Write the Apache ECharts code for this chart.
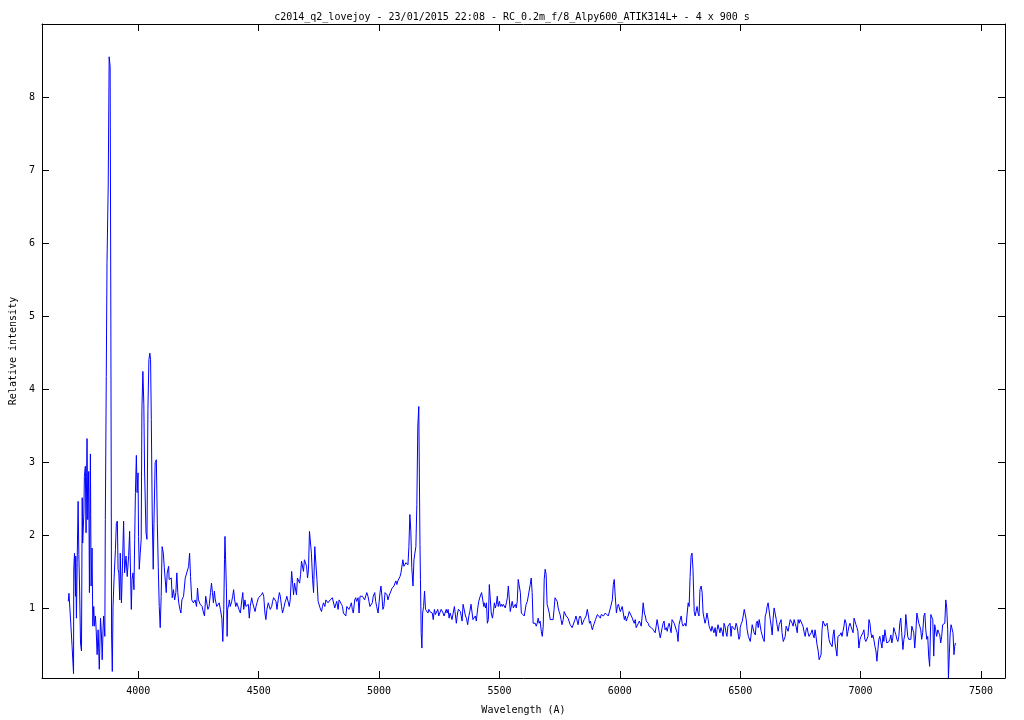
<!DOCTYPE html>
<html>
<head>
<meta charset="utf-8">
<script src="https://cdn.jsdelivr.net/npm/echarts@6/dist/echarts.min.js"></script>
<style>
html,body{margin:0;padding:0;background:#fff;}
#chart{width:1024px;height:720px;}
</style>
</head>
<body>
<div id="chart"></div>
<script>
// Spectrum readings: [wavelength (A), relative intensity]
const segViolet = [
[3709,1.09],[3712,1.20],[3717,1.20],[3719,0.82],[3725,0.47],[3731,0.10],[3732,1.53],[3735,1.75],[3739,1.16],[3740,1.71],
[3743,0.86],[3746,1.62],[3750,2.46],[3753,1.73],[3756,1.30],[3760,0.52],[3764,0.41],[3767,2.51],[3769,1.89],[3774,2.30],
[3776,2.80],[3780,2.94],[3783,2.03],[3787,3.32],[3790,2.21],[3794,2.87],[3797,1.21],[3801,3.11],[3804,1.30],[3808,1.82],
[3811,0.75],[3815,1.02],[3818,0.75],[3822,0.89],[3825,0.70],[3829,0.36],[3833,0.70],[3838,0.16],[3843,0.86],[3847,0.63],
[3850,0.29],[3854,0.75],[3856,0.89],[3861,0.61],[3863,2.21],[3867,4.17],[3870,5.73],[3875,6.78],[3879,8.55],[3883,8.42],
[3886,4.96],[3889,0.63],[3892,0.13]
];
const segBlue = [
[3895,1.02],[3899,1.37],[3905,1.80],[3909,2.16],[3913,2.19],[3916,1.53],[3919,1.48],[3923,1.11],[3925,1.75],[3930,1.07],
[3932,1.30],[3939,2.19],[3943,1.48],[3949,1.71],[3954,1.43],[3960,1.72],[3964,2.05],[3967,2.05],[3971,0.98],[3974,1.39],
[3978,1.48],[3982,1.25],[3985,1.94],[3988,2.58],[3992,3.09],[3995,2.58],[3999,2.85],[4001,1.98],[4004,1.53],[4008,1.75],
[4012,1.94],[4015,3.72],[4019,4.24],[4023,3.79],[4026,2.89],[4032,2.03],[4036,1.94],[4040,3.72],[4044,4.40],[4048,4.49],
[4051,4.40],[4054,3.58],[4058,2.26],[4062,1.53],[4065,2.16],[4070,2.99],[4075,3.03],[4079,2.16],[4083,1.55],[4087,1.02],
[4091,0.73],[4095,1.16],[4099,1.84],[4104,1.75],[4108,1.55],[4112,1.53],[4116,1.21],[4120,1.48],[4126,1.57],[4128,1.39],
[4133,1.39],[4137,1.41],[4141,1.14],[4146,1.25],[4151,1.11],[4156,1.21],[4160,1.48],[4164,1.21],[4168,1.07],[4173,0.98],
[4177,0.93],[4181,1.11],[4188,1.16],[4195,1.41],[4199,1.39],[4203,1.43],[4209,1.57],[4213,1.75],[4217,1.43],[4222,1.11],
[4229,1.07],[4236,1.11],[4242,1.02],[4246,1.27],[4250,1.11],[4257,1.05],[4261,1.07],[4265,1.02],[4271,0.93],[4275,0.89],
[4280,1.16],[4284,1.18],[4289,0.98],[4294,1.02],[4300,1.21],[4304,1.34],[4308,1.21],[4312,1.07],[4316,1.23],[4320,1.11],
[4326,1.02],[4330,1.02],[4336,1.07],[4341,0.98],[4347,0.86],[4351,0.54],[4355,0.98],[4358,1.66],[4360,1.98],[4363,1.98],
[4366,1.27],[4369,0.61],[4371,0.98],[4376,1.05],[4378,1.11],[4382,1.02],[4388,1.09],[4392,1.16],[4396,1.25],[4400,1.11],
[4405,1.02],[4409,1.07],[4413,1.09],[4418,0.98],[4424,0.93]
];
const segCyan = [
[4430,1.11],[4434,1.21],[4438,0.98],[4443,1.11],[4447,1.02],[4452,1.00],[4457,1.05],[4461,0.86],[4465,1.02],[4471,1.14],
[4475,1.07],[4479,1.09],[4485,0.95],[4489,1.02],[4493,1.07],[4499,1.14],[4503,1.16],[4507,1.14],[4512,1.18],[4516,1.21],
[4521,1.16],[4526,0.93],[4530,0.84],[4534,0.98],[4540,1.07],[4544,1.05],[4548,0.98],[4554,1.02],[4558,1.09],[4562,1.14],
[4568,1.16],[4572,1.09],[4576,0.98],[4581,1.11],[4586,1.21],[4590,1.16],[4595,1.02],[4599,0.93],[4603,0.98],[4609,1.07],
[4613,1.11],[4617,1.16],[4623,1.16],[4627,1.02],[4631,1.11],[4637,1.50],[4641,1.34],[4645,1.18],[4649,1.34],[4653,1.34],
[4657,1.18],[4661,1.41],[4666,1.43],[4670,1.34],[4674,1.46],[4678,1.64],[4682,1.62],[4686,1.50],[4690,1.66],[4695,1.66],
[4699,1.57],[4703,1.41],[4707,1.53],[4711,2.05],[4715,2.05],[4719,1.75],[4724,1.39],[4728,1.21],[4733,1.84],[4737,1.84],
[4742,1.39],[4747,1.09],[4751,1.07],[4755,1.00],[4761,0.95],[4765,1.02],[4769,1.07],[4775,1.02],[4779,1.11],[4783,1.09],
[4788,1.07],[4793,1.09],[4797,1.11],[4802,1.09],[4806,1.14],[4811,1.16],[4816,1.00],[4820,1.02],[4824,1.09],[4830,0.98],
[4834,1.11],[4838,1.11],[4844,1.05],[4848,1.02],[4852,0.93],[4858,0.91],[4862,0.89],[4866,1.02],[4871,1.02],[4875,0.98],
[4880,1.02],[4885,1.07],[4889,0.98],[4893,0.93],[4899,1.11],[4903,1.14],[4907,1.09],[4913,1.14],[4917,0.93],[4921,1.16],
[4927,1.18],[4931,1.16],[4935,1.14],[4940,1.11],[4945,1.09],[4949,1.21],[4954,1.16],[4958,1.09],[4962,1.02],[4968,1.00],
[4972,1.07],[4976,1.16],[4982,1.21],[4986,1.09],[4990,1.02],[4996,0.93],[5000,0.91],[5004,1.21],[5008,1.30],[5012,1.16],
[5016,0.98],[5020,1.02],[5025,1.21],[5029,1.21],[5033,1.18],[5037,1.11],[5041,1.16],[5045,1.14],[5049,1.18],[5054,1.27],
[5058,1.25],[5062,1.30],[5066,1.34],[5070,1.37],[5074,1.32],[5078,1.37],[5083,1.39],[5087,1.43],[5091,1.48],[5095,1.50],
[5099,1.66],[5103,1.57],[5107,1.55],[5112,1.62],[5116,1.64],[5120,1.59],[5124,1.84],[5128,2.28],[5132,2.05],[5136,1.55],
[5141,1.30],[5145,1.66],[5149,1.75],[5153,1.84],[5157,2.42],[5161,3.49],[5165,3.76],[5170,1.87],[5172,1.39],[5175,0.66],
[5178,0.45],[5181,0.93],[5185,1.02],[5189,1.23],[5193,0.98],[5197,1.00],[5203,0.93],[5207,0.98],[5211,0.95],[5216,0.93],
[5221,0.93],[5225,0.84],[5230,0.98],[5234,0.91],[5239,0.89],[5244,0.98],[5248,0.89],[5252,0.93],[5258,0.98],[5262,1.00],
[5266,0.93],[5270,0.89],[5274,0.93],[5279,0.98],[5283,0.93],[5287,0.98],[5291,0.86],[5295,0.93],[5299,0.89],[5303,0.84],
[5308,0.93],[5313,1.02],[5317,1.02],[5321,0.79],[5326,0.93],[5330,0.98],[5334,0.98],[5338,0.95]
];
const segGreen = [
[5341,0.93],[5345,0.82],[5349,1.05],[5355,1.07],[5359,0.89],[5363,0.86],[5368,0.77],[5373,0.89],[5377,0.95],[5382,1.05],
[5386,1.07],[5390,0.84],[5396,0.86],[5400,0.89],[5404,0.82],[5410,1.00],[5414,1.09],[5418,1.11],[5422,1.18],[5426,1.21],
[5430,1.23],[5435,1.02],[5437,1.07],[5442,1.00],[5446,1.07],[5450,0.79],[5454,0.84],[5458,1.32],[5462,1.34],[5466,0.93],
[5471,0.86],[5475,0.95],[5479,1.07],[5483,1.00],[5487,1.05],[5491,1.16],[5495,1.02],[5500,1.09],[5504,1.02],[5508,1.05],
[5512,1.02],[5516,1.05],[5520,1.07],[5524,1.00],[5529,1.07],[5533,1.14],[5537,1.30],[5541,1.30],[5545,0.95],[5549,0.93],
[5553,1.09],[5558,1.00],[5562,0.98],[5566,1.05],[5570,1.00],[5574,1.09],[5578,1.39],[5582,1.41],[5587,1.21],[5591,0.93],
[5595,0.93],[5599,0.95],[5603,0.89],[5607,0.91],[5611,1.05],[5616,1.09],[5620,1.09],[5624,1.07],[5628,1.32],[5632,1.41],
[5636,1.21],[5640,0.79],[5644,0.77],[5649,0.79],[5653,0.75],[5657,0.79],[5661,0.86],[5665,0.79],[5669,0.82],[5674,0.68],
[5678,0.61],[5682,0.75],[5686,1.39],[5690,1.53],[5694,1.46],[5698,1.05],[5702,1.00],[5707,0.93],[5711,0.84],[5715,0.84],
[5719,0.86],[5723,0.84],[5727,0.98],[5731,1.14],[5736,1.16],[5740,1.09],[5744,1.00],[5748,0.95],[5752,0.91],[5756,0.84],
[5760,0.77],[5765,0.84],[5769,0.95],[5773,0.93],[5777,0.89],[5781,0.89],[5785,0.86],[5789,0.84],[5794,0.77],[5798,0.75],
[5802,0.73],[5806,0.75],[5810,0.75],[5814,0.84],[5818,0.89],[5823,0.82],[5827,0.77],[5831,0.86],[5835,0.89],[5839,0.86],
[5843,0.77],[5847,0.79],[5852,0.84],[5856,0.84],[5860,0.89],[5865,0.98],[5870,0.89],[5874,0.79],[5878,0.82],[5882,0.75],
[5886,0.70],[5890,0.75],[5894,0.79],[5899,0.84],[5903,0.84],[5907,0.91],[5911,0.89],[5915,0.93],[5919,0.86],[5923,0.91],
[5928,0.93],[5932,0.89],[5936,0.91],[5940,0.93],[5944,0.93],[5948,0.91],[5952,0.89],[5957,0.91],[5961,1.00],[5965,0.98],
[5969,1.11],[5973,1.32],[5977,1.39],[5981,1.16],[5986,0.93],[5990,1.02],[5994,1.05],[5998,1.07],[6002,0.95],[6006,0.95],
[6010,1.02],[6014,1.00],[6019,0.84],[6023,0.89],[6027,0.82],[6031,0.86],[6035,0.89],[6039,0.95],[6044,0.93],[6048,0.89],
[6052,0.86],[6056,0.82],[6060,0.79],[6064,0.84],[6068,0.73],[6073,0.75],[6077,0.79],[6081,0.82],[6085,0.79],[6089,0.75],
[6093,0.89],[6097,1.07],[6102,0.93],[6106,0.89],[6110,0.82],[6114,0.84],[6118,0.79],[6122,0.75],[6126,0.77],[6131,0.73],
[6135,0.75],[6139,0.70],[6143,0.68],[6147,0.66],[6151,0.75],[6155,0.84],[6159,0.82],[6164,0.66],[6168,0.59],[6172,0.57],
[6176,0.73],[6180,0.79],[6184,0.82],[6188,0.70],[6193,0.73],[6197,0.68],[6201,0.75],[6205,0.79],[6209,0.73],[6213,0.66],
[6217,0.84],[6222,0.82],[6226,0.79],[6230,0.77],[6234,0.79],[6238,0.66],[6242,0.54],[6246,0.77],[6251,0.84],[6255,0.89],
[6259,0.79],[6263,0.75],[6267,0.73],[6271,0.79],[6275,0.75],[6280,0.93],[6284,1.07],[6288,1.02],[6292,1.43],[6296,1.71],
[6300,1.75],[6304,1.53],[6309,0.95],[6313,0.89],[6317,0.91],[6321,1.02],[6325,0.93],[6329,0.89],[6333,1.25],[6338,1.30],
[6342,1.21],[6346,0.93],[6350,0.91],[6354,0.79],[6358,0.84],[6362,0.93],[6367,0.84],[6371,0.75],[6375,0.73],[6379,0.68],
[6383,0.75],[6387,0.73],[6391,0.66],[6396,0.73],[6400,0.61],[6404,0.70],[6408,0.77],[6412,0.75],[6416,0.66],[6420,0.73],
[6425,0.68],[6429,0.61],[6433,0.79],[6437,0.75],[6441,0.66],[6445,0.61],[6449,0.75],[6454,0.73],[6458,0.79],[6462,0.61],
[6466,0.75],[6470,0.77],[6474,0.75],[6478,0.70],[6483,0.79],[6487,0.75],[6491,0.73],[6495,0.57],[6499,0.61]
];
const segRed = [
[6500,0.73],[6505,0.79],[6509,0.82],[6513,0.84],[6517,0.98],[6521,0.99],[6525,0.84],[6529,0.70],[6534,0.61],[6538,0.59],
[6542,0.54],[6546,0.52],[6550,0.77],[6554,0.75],[6558,0.66],[6563,0.63],[6567,0.79],[6571,0.82],[6575,0.73],[6579,0.84],
[6583,0.84],[6587,0.68],[6592,0.66],[6596,0.57],[6600,0.54],[6604,0.89],[6608,0.93],[6612,1.02],[6616,1.07],[6621,1.05],
[6625,0.84],[6629,0.75],[6633,0.63],[6637,0.86],[6641,1.00],[6645,0.98],[6650,0.84],[6654,0.75],[6658,0.68],[6662,0.77],
[6666,0.79],[6670,0.84],[6674,0.66],[6679,0.54],[6683,0.54],[6687,0.61],[6691,0.75],[6695,0.77],[6699,0.68],[6703,0.66],
[6708,0.84],[6712,0.86],[6716,0.79],[6720,0.75],[6724,0.84],[6728,0.79],[6732,0.75],[6737,0.66],[6741,0.84],[6745,0.79],
[6749,0.84],[6753,0.86],[6757,0.84],[6761,0.75],[6766,0.66],[6770,0.61],[6774,0.70],[6778,0.73],[6782,0.66],[6786,0.61],
[6790,0.63],[6795,0.66],[6799,0.70],[6803,0.63],[6807,0.59],[6811,0.70],[6815,0.61],[6819,0.50],[6824,0.41],[6828,0.29],
[6832,0.27],[6836,0.36],[6840,0.70],[6844,0.82],[6848,0.82],[6853,0.75],[6857,0.75],[6861,0.79],[6865,0.68],[6869,0.57],
[6873,0.52],[6877,0.50],[6882,0.47],[6886,0.63],[6890,0.70],[6894,0.52],[6898,0.50],[6902,0.34],[6906,0.61],[6911,0.63],
[6915,0.63],[6919,0.66],[6923,0.61],[6927,0.68],[6931,0.75],[6935,0.84],[6940,0.79],[6944,0.61],[6948,0.68],[6952,0.75],
[6956,0.79],[6960,0.75],[6964,0.73],[6969,0.66],[6973,0.86],[6977,0.86],[6981,0.77],[6985,0.73],[6989,0.68],[6993,0.45],
[6998,0.57],[7002,0.61],[7006,0.63],[7010,0.66],[7014,0.70],[7018,0.57],[7022,0.54],[7026,0.54],[7031,0.61],[7035,0.84],
[7039,0.79],[7043,0.66],[7047,0.59],[7051,0.63],[7055,0.57],[7060,0.47],[7064,0.41],[7068,0.27],[7072,0.43],[7076,0.57],
[7080,0.61],[7084,0.54],[7089,0.45],[7093,0.63],[7097,0.54],[7101,0.70],[7105,0.61],[7109,0.52],[7113,0.50],[7118,0.54],
[7122,0.57],[7126,0.63],[7130,0.52],[7134,0.59],[7138,0.73],[7142,0.68],[7147,0.63],[7151,0.57],[7155,0.54],[7159,0.61],
[7163,0.79],[7167,0.86],[7171,0.66],[7176,0.43],[7180,0.57],[7184,0.63],[7188,0.91],[7192,0.91],[7196,0.61],[7200,0.57],
[7205,0.59],[7209,0.57],[7213,0.75],[7217,0.73],[7221,0.66],[7225,0.45],[7229,0.63],[7234,0.93],[7238,0.91],[7242,0.79],
[7246,0.75],[7250,0.70],[7254,0.57],[7258,0.66],[7263,0.89],[7267,0.93],[7271,0.70],[7275,0.57],[7279,0.61],[7283,0.34],
[7287,0.20],[7292,0.91],[7296,0.91],[7300,0.84],[7304,0.34],[7308,0.77],[7312,0.70],[7316,0.61],[7321,0.70],[7325,0.66],
[7329,0.63],[7333,0.52],[7337,0.61],[7341,0.77],[7345,0.79],[7350,0.79],[7354,1.11],[7358,1.00],[7362,0.70],[7365,0.04],
[7369,0.38],[7372,0.63],[7376,0.77],[7380,0.79],[7384,0.66],[7388,0.36],[7391,0.47],[7394,0.52]
];

const xTickValues = [4000, 4500, 5000, 5500, 6000, 6500, 7000, 7500];
const yTickValues = [1, 2, 3, 4, 5, 6, 7, 8];
const titleText = 'c2014_q2_lovejoy - 23/01/2015 22:08 - RC_0.2m_f/8_Alpy600_ATIK314L+ - 4 x 900 s';
const xName = 'Wavelength (A)';
const yName = 'Relative intensity';

const spectrum = [].concat(segViolet, segBlue, segCyan, segGreen, segRed);

const FONT = 'DejaVu Sans Mono';
const chart = echarts.init(document.getElementById('chart'), null, {renderer: 'canvas'});

function xAx(pos, show) {
  return {
    type: 'value', position: pos, min: 3600, max: 7600,
    axisLine: {show: true, onZero: false, lineStyle: {color: '#000', width: 1}},
    axisTick: {show: true, inside: true, length: 7, customValues: xTickValues, lineStyle: {color: '#000', width: 1}},
    axisLabel: {show: show, customValues: xTickValues, margin: 8, color: '#000', fontFamily: FONT, fontSize: 10,
      formatter: function (v) { return String(v); }},
    splitLine: {show: false},
    name: show ? xName : '', nameLocation: 'middle', nameGap: 27,
    nameTextStyle: {color: '#000', fontFamily: FONT, fontSize: 10}
  };
}
function yAx(pos, show) {
  return {
    type: 'value', position: pos, min: 0.04, max: 9,
    axisLine: {show: true, onZero: false, lineStyle: {color: '#000', width: 1}},
    axisTick: {show: true, inside: true, length: 7, customValues: yTickValues, lineStyle: {color: '#000', width: 1}},
    axisLabel: {show: show, customValues: yTickValues, margin: 7, color: '#000', fontFamily: FONT, fontSize: 10,
      formatter: function (v) { return String(v); }},
    splitLine: {show: false},
    name: show ? yName : '', nameLocation: 'middle', nameGap: 24,
    nameTextStyle: {color: '#000', fontFamily: FONT, fontSize: 10}
  };
}

chart.setOption({
  animation: false,
  backgroundColor: '#fff',
  title: {
    text: titleText, left: 'center', top: 7,
    textStyle: {color: '#000', fontFamily: FONT, fontSize: 10, fontWeight: 'normal'}
  },
  grid: {left: 40, right: 19, top: 24, bottom: 42, containLabel: false},
  xAxis: [xAx('bottom', true), xAx('top', false)],
  yAxis: [yAx('left', true), yAx('right', false)],
  series: [{
    type: 'line', xAxisIndex: 0, yAxisIndex: 0,
    data: spectrum, showSymbol: false, symbol: 'none',
    lineStyle: {color: '#0000ff', width: 1},
    silent: true, clip: true
  }]
});
</script>
</body>
</html>
